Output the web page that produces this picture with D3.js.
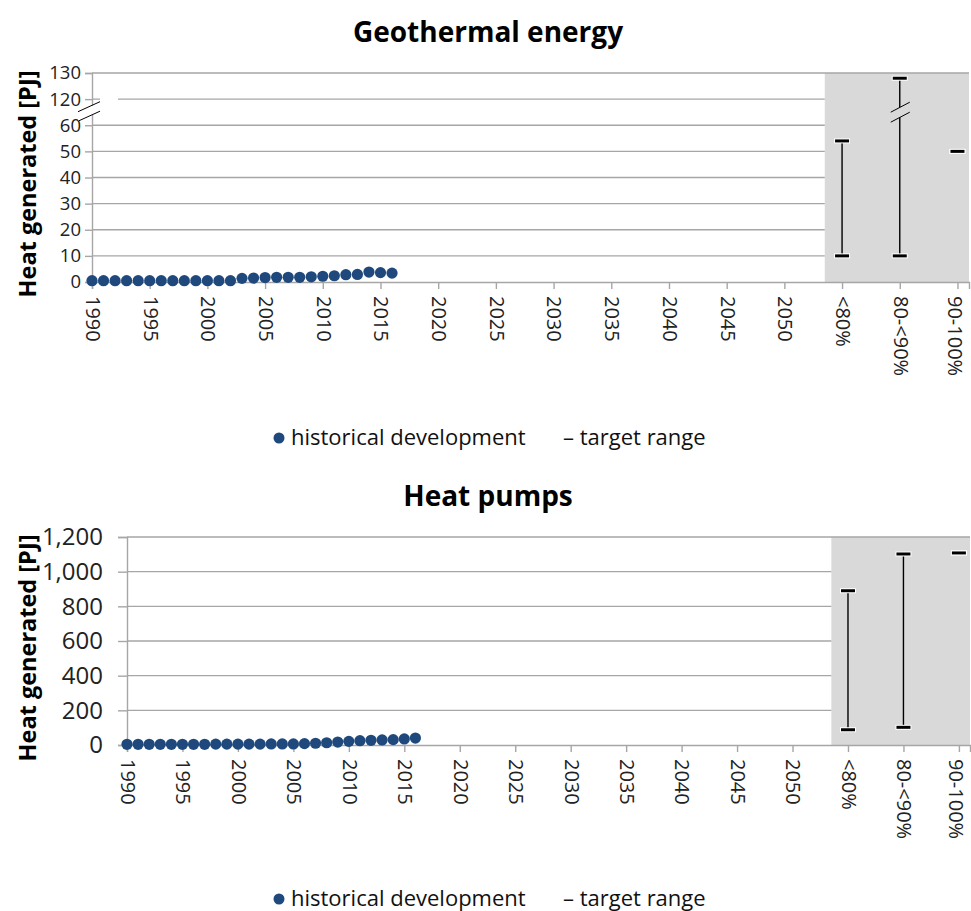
<!DOCTYPE html>
<html><head><meta charset="utf-8">
<script src="https://cdn.jsdelivr.net/npm/d3@7"></script>
<style>
html,body{margin:0;padding:0;background:#fff;}
svg{display:block;font-family:"Open Sans","Noto Sans",sans-serif;}
</style></head>
<body><svg id="c" width="971" height="911"></svg>
<script>
// ---- data ----
const years = [1990,1991,1992,1993,1994,1995,1996,1997,1998,1999,2000,2001,2002,2003,2004,2005,2006,2007,2008,2009,2010,2011,2012,2013,2014,2015,2016];
const geoHistorical = [0.5,0.5,0.5,0.5,0.5,0.5,0.5,0.5,0.5,0.5,0.5,0.5,0.5,1.4,1.5,1.7,1.8,1.8,1.8,2.0,2.2,2.4,2.8,2.9,3.8,3.6,3.4];
const heatPumpHistorical = [4,4,4,4,4,4,4,4,5,5,5,5,5,6,6,6,8,10,13,17,21,25,27,29,31,35,40];
const targetCategories = ["<80%","80-<90%","90-100%"];
const targetPositions = [2055,2060,2065];
const geoTargetLow = [10,10,50];
const geoTargetHigh = [54,128,50];
const hpTargetLow = [88,102,1108];
const hpTargetHigh = [890,1102,1108];
const yearTicks = [1990,1995,2000,2005,2010,2015,2020,2025,2030,2035,2040,2045,2050];
const geoTickValues = [0,10,20,30,40,50,60,120,130];
const hpTickValues = [0,200,400,600,800,1000,1200];
const legendLabels = ["historical development","target range"];
const yTitle = "Heat generated [PJ]";

const svg = d3.select("#c");
const dotColor = "#1f497d";
const gridColor = "#a6a6a6";
const FONT = "'Open Sans','Noto Sans',sans-serif";

function drawChart(o){
  const g = svg.append("g");
  const x = d3.scaleLinear().domain([1990,2066]).range([o.left,o.right]);
  const yLin = d3.scaleLinear().domain(o.axisDomain).range([o.bottom,o.top]);
  const y = v => yLin(o.map(v));

  // title
  g.append("text").attr("x",488).attr("y",o.titleY).attr("text-anchor","middle")
    .attr("font-weight","bold").attr("font-size",28).attr("fill","#000").text(o.title);

  // gray band
  g.append("rect").attr("x",x(2053.5)).attr("y",o.top)
    .attr("width",x(2066)-x(2053.5)).attr("height",o.bottom-o.top).attr("fill","#d9d9d9");

  // gridlines
  const gridW = x(2053.5);
  g.selectAll(".grid").data(o.ticks.filter(t=>t!==0)).join("line")
    .attr("x1",o.left).attr("x2",d=> d===o.ticks[o.ticks.length-1] ? o.right : gridW)
    .attr("y1",d=>y(d)).attr("y2",d=>y(d))
    .attr("stroke",gridColor).attr("stroke-width",1.4);

  // y axis
  const yAxis = d3.axisLeft(yLin).tickValues(o.ticks.map(o.map)).tickSize(o.yTick)
    .tickFormat((d,i)=>o.fmt(o.ticks[i]));
  const ya = g.append("g").attr("transform",`translate(${o.left},0)`).call(yAxis);
  ya.select(".domain").attr("stroke",gridColor).attr("stroke-width",1.4);
  ya.selectAll(".tick line").attr("stroke",gridColor).attr("stroke-width",1.4);
  ya.selectAll(".tick text").attr("font-size",o.yFont).attr("fill","#222")
    .attr("font-family",FONT).attr("dx",o.yDx);

  // x axis
  const xTickVals = yearTicks.concat(targetPositions);
  const xLabels = yearTicks.map(String).concat(targetCategories);
  const xAxis = d3.axisBottom(x).tickValues(xTickVals).tickSize(7)
    .tickFormat((d,i)=>xLabels[i]);
  const xa = g.append("g").attr("transform",`translate(0,${o.bottom})`).call(xAxis);
  xa.select(".domain").attr("stroke",gridColor).attr("stroke-width",1.4);
  xa.selectAll(".tick line").attr("stroke",gridColor).attr("stroke-width",1.4);
  xa.selectAll(".tick text").attr("font-size",20).attr("fill","#222")
    .attr("font-family",FONT)
    .attr("transform","rotate(90)").attr("text-anchor","start")
    .attr("x",14).attr("y",0).attr("dy",(d,i)=> i===xTickVals.length-1 ? "0.5em" : "0.33em");

  // y title
  g.append("text").attr("transform",`translate(36,${o.yTitleY}) rotate(-90)`)
    .attr("text-anchor","middle").attr("font-weight","bold").attr("font-size",23.5)
    .attr("fill","#000").text(yTitle);

  // axis break marks
  if(o.axisBreak){
    const yb = yLin(65);
    g.append("polygon").attr("points",`${o.left-14},${yb+9} ${o.left+8},${yb-1} ${o.left+8},${yb-10} ${o.left-14},${yb}`)
      .attr("fill","#fff");
    g.append("rect").attr("x",o.left+8).attr("y",yLin(70)-1.5).attr("width",18).attr("height",3).attr("fill","#fff");
    [0,9.5].forEach(dy=>{
      g.append("line").attr("x1",o.left-14).attr("y1",yb-0.5+dy).attr("x2",o.left+8).attr("y2",yb-10.5+dy)
        .attr("stroke","#000").attr("stroke-width",1);
    });
  }

  // target range bars
  const tg = g.append("g");
  targetPositions.forEach((p,i)=>{
    const lo = o.low[i], hi = o.high[i];
    const cx = x(p);
    if(hi!==lo){
      tg.append("line").attr("x1",cx).attr("x2",cx).attr("y1",y(lo)).attr("y2",y(hi))
        .attr("stroke","#000").attr("stroke-width",1.4);
    }
    [lo,hi].forEach(v=>{
      tg.append("rect").attr("x",cx-8).attr("y",y(v)-2.5).attr("width",16).attr("height",5).attr("fill","#fff");
      tg.append("line").attr("x1",cx-7).attr("x2",cx+7).attr("y1",y(v)).attr("y2",y(v))
        .attr("stroke","#000").attr("stroke-width",3);
    });
    if(o.axisBreak && hi>60){
      const yb = yLin(65);
      tg.append("polygon").attr("points",`${cx-9},${yb+10} ${cx+10},${yb} ${cx+10},${yb-10} ${cx-9},${yb}`)
        .attr("fill","#d9d9d9");
      [0,10].forEach(dy=>{
        tg.append("line").attr("x1",cx-9).attr("y1",yb+dy).attr("x2",cx+10).attr("y2",yb-10+dy)
          .attr("stroke","#000").attr("stroke-width",1);
      });
    }
  });

  // historical dots
  g.append("g").selectAll("circle").data(years).join("circle")
    .attr("cx",d=>x(d)).attr("cy",(d,i)=>y(o.hist[i])).attr("r",5.6).attr("fill",dotColor);

  // legend
  const lg = g.append("g");
  lg.append("circle").attr("cx",279).attr("cy",o.legendY-7).attr("r",5.5).attr("fill",dotColor);
  lg.append("text").attr("x",291).attr("y",o.legendY).attr("font-size",22).attr("fill","#111").text(legendLabels[0]);
  lg.append("text").attr("x",563).attr("y",o.legendY).attr("font-size",22).attr("fill","#111").text("– "+legendLabels[1]);
}

drawChart({
  title:"Geothermal energy", titleY:42,
  left:92, right:969, top:73, bottom:282,
  axisDomain:[0,80], map:v=> v<=60 ? v : v-50,
  ticks:geoTickValues, fmt:d3.format("d"), yFont:18.5, yTick:7, yDx:-1,
  yTitleY:184, axisBreak:true,
  low:geoTargetLow, high:geoTargetHigh, hist:geoHistorical,
  legendY:445
});
drawChart({
  title:"Heat pumps", titleY:506,
  left:127, right:970, top:537, bottom:745,
  axisDomain:[0,1200], map:v=>v,
  ticks:hpTickValues, fmt:d3.format(","), yFont:24, yTick:9, yDx:-12,
  yTitleY:648, axisBreak:false,
  low:hpTargetLow, high:hpTargetHigh, hist:heatPumpHistorical,
  legendY:906
});
</script></body></html>
